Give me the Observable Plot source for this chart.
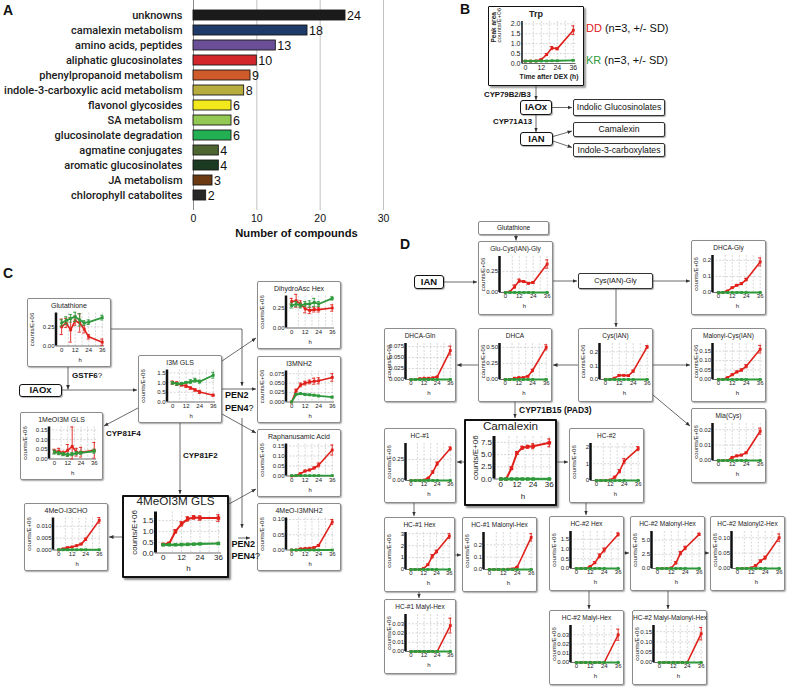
<!DOCTYPE html>
<html><head><meta charset="utf-8">
<script src="https://cdn.jsdelivr.net/npm/d3@7"></script>
<script src="https://cdn.jsdelivr.net/npm/@observablehq/plot@0.6"></script>
<style>
body{margin:0;background:#fff;}
#page{position:relative;width:787px;height:687px;overflow:hidden;background:#fff;font-family:"Liberation Sans",Arial,sans-serif;color:#111;}
.box{position:absolute;box-sizing:border-box;background:#fff;}
.mini{border:1px solid #8c8c8c;border-radius:2px;box-shadow:1px 1px 1.5px rgba(0,0,0,0.35);}
.big{border:2.5px solid #111;border-radius:1px;box-shadow:2px 2px 2px rgba(0,0,0,0.45);}
.trpbox{border:1.5px solid #111;border-radius:1px;box-shadow:2px 2px 2px rgba(0,0,0,0.4);}
.box svg{position:absolute;left:0;top:0;}
.ttl{position:absolute;left:0;right:0;text-align:center;white-space:nowrap;line-height:1;color:#222;}
.node{position:absolute;box-sizing:border-box;border:1.5px solid #111;border-radius:3px;background:#fff;font-weight:bold;text-align:center;box-shadow:1px 1px 1px rgba(0,0,0,0.3);}
.pbox{position:absolute;box-sizing:border-box;border:1px solid #333;border-radius:2px;background:#fff;text-align:center;box-shadow:1px 1px 1px rgba(0,0,0,0.35);white-space:nowrap;}
.lbl{position:absolute;white-space:nowrap;line-height:1;}
.panel{position:absolute;font-weight:bold;font-size:14px;line-height:1;}
</style>
</head><body><div id="page"></div>
<script>
// ---------------- Panel A data ----------------
const categories = ["unknowns","camalexin metabolism","amino acids, peptides","aliphatic glucosinolates","phenylpropanoid metabolism","indole-3-carboxylic acid metabolism","flavonol glycosides","SA metabolism","glucosinolate degradation","agmatine conjugates","aromatic glucosinolates","JA metabolism","chlorophyll catabolites"];
const compoundCounts = [24,18,13,10,9,8,6,6,6,4,4,3,2];
const countTicks = [0,10,20,30];

// ---------------- time courses (hours after DEX) ----------------
const hours = [0,4,8,12,16,20,24,36];
const hourTicks = [0,12,24,36];
const hourGrid = [6,12,18,24,30,36];

const trpDD = [0.12,0.12,0.13,0.2,0.45,0.78,0.75,1.68];
const trpDDsd = [0.02,0.02,0.02,0.03,0.05,0.08,0.06,0.22];
const trpKR = [0.12,0.12,0.12,0.13,0.13,0.14,0.14,0.16];
const trpKRsd = [0.01,0.01,0.01,0.01,0.01,0.01,0.01,0.02];

const glutathioneDD = [0.25,0.3,0.21,0.33,0.3,0.22,0.12,0.05];
const glutathioneDDsd = [0.1,0.06,0.16,0.06,0.12,0.05,0.03,0.04];
const glutathioneKR = [0.3,0.33,0.36,0.38,0.34,0.3,0.31,0.37];
const glutathioneKRsd = [0.04,0.05,0.05,0.06,0.08,0.03,0.03,0.03];

const i3mGlsDD = [1.0,0.95,0.88,0.82,0.72,0.62,0.52,0.35];
const i3mGlsDDsd = [0.08,0.1,0.06,0.06,0.06,0.06,0.08,0.05];
const i3mGlsKR = [0.98,0.93,0.95,1.0,1.05,1.12,1.05,1.38];
const i3mGlsKRsd = [0.06,0.06,0.06,0.05,0.1,0.1,0.08,0.15];

const dihydroAscHexDD = [0.33,0.34,0.3,0.24,0.22,0.23,0.23,0.25];
const dihydroAscHexDDsd = [0.04,0.08,0.04,0.05,0.04,0.03,0.03,0.04];
const dihydroAscHexKR = [0.28,0.3,0.28,0.3,0.3,0.32,0.3,0.37];
const dihydroAscHexKRsd = [0.03,0.03,0.03,0.03,0.04,0.05,0.03,0.02];

const i3mnh2DD = [0.0,0.03,0.045,0.05,0.053,0.055,0.056,0.065];
const i3mnh2DDsd = [0,0.004,0.005,0.005,0.005,0.008,0.008,0.01];
const i3mnh2KR = [0.0,0.02,0.022,0.02,0.019,0.018,0.016,0.013];
const i3mnh2KRsd = [0,0.002,0.002,0.002,0.002,0.002,0.002,0.002];

const raphanusamicDD = [0,0.002,0.012,0.025,0.03,0.04,0.055,0.13];
const raphanusamicDDsd = [0,0,0.003,0.004,0.004,0.005,0.01,0.025];
const raphanusamicKR = [0.002,0.002,0.002,0.002,0.002,0.002,0.002,0.002];

const meo1I3mGlsDD = [0.04,0.04,0.03,0.045,0.065,0.035,0.035,0.045];
const meo1I3mGlsDDsd = [0.01,0.015,0.01,0.03,0.1,0.02,0.025,0.04];
const meo1I3mGlsKR = [0.035,0.03,0.025,0.022,0.025,0.03,0.032,0.04];
const meo1I3mGlsKRsd = [0.01,0.008,0.008,0.008,0.008,0.008,0.008,0.01];

const meo4I3choDD = [0,0.0005,0.001,0.0013,0.0018,0.0025,0.0045,0.0125];
const meo4I3choDDsd = [0,0.0001,0.0002,0.0002,0.0003,0.0003,0.0005,0.0012];
const meo4I3choKR = [0.0001,0.0001,0.0001,0.0001,0.0001,0.0001,0.0001,0.0001];

const meo4I3mGlsDD = [0.4,0.45,1.0,1.35,1.58,1.65,1.62,1.62];
const meo4I3mGlsDDsd = [0.04,0.04,0.08,0.1,0.1,0.08,0.1,0.15];
const meo4I3mGlsKR = [0.38,0.38,0.38,0.39,0.4,0.41,0.42,0.44];
const meo4I3mGlsKRsd = [0.02,0.02,0.02,0.02,0.02,0.02,0.02,0.02];

const meo4I3mnh2DD = [0,0,0.004,0.005,0.006,0.008,0.015,0.092];
const meo4I3mnh2DDsd = [0,0,0.001,0.001,0.001,0.002,0.003,0.008];
const meo4I3mnh2KR = [0,0,0,0,0,0,0,0];

const krBaselineD = [0,0,0,0,0,0,0,0];

const gluCysIanGlyDD = [0,0.01,0.07,0.14,0.13,0.11,0.12,0.34];
const gluCysIanGlySD = [0,0,0.02,0.02,0.01,0.01,0.01,0.05];
const dhcaGlyDD = [0,0,0.01,0.03,0.045,0.055,0.08,0.19];
const dhcaGlySD = [0,0,0.002,0.004,0.005,0.006,0.008,0.025];
const dhcaGlnDD = [0,0,0.002,0.003,0.003,0.004,0.006,0.066];
const dhcaGlnSD = [0,0,0,0,0,0,0.001,0.01];
const dhcaDD = [0,0,0.02,0.03,0.03,0.05,0.14,0.5];
const dhcaSD = [0,0,0,0.005,0.005,0.01,0.02,0.04];
const cysIanDD = [0,0,0.01,0.03,0.03,0.028,0.06,0.235];
const cysIanSD = [0,0,0.002,0.005,0.004,0.004,0.008,0.01];
const malonylCysIanDD = [0,0,0.01,0.025,0.04,0.05,0.07,0.16];
const malonylCysIanSD = [0,0,0.002,0.004,0.005,0.006,0.008,0.02];
const miaCysDD = [0,0,0,0.002,0.003,0.0035,0.005,0.019];
const miaCysSD = [0,0,0,0.0003,0.0005,0.0005,0.0005,0.002];
const camalexinDD = [0,0,2.2,5.3,6.4,6.6,6.7,7.4];
const camalexinSD = [0,0,0.3,0.3,0.3,0.3,0.5,0.8];
const hc1DD = [0,0,0,0.005,0.03,0.1,0.2,0.38];
const hc1SD = [0,0,0,0,0.005,0.015,0.02,0.02];
const hc2DD = [0,0,0,0.03,0.2,0.55,1.15,1.9];
const hc2SD = [0,0,0,0.01,0.05,0.1,0.15,0.12];
const hc1HexDD = [0,0,0,0.1,0.4,1.1,1.5,2.8];
const hc1HexSD = [0,0,0,0.02,0.05,0.15,0.12,0.2];
const hc1MalonylHexDD = [0,0,0,0,0.002,0.005,0.02,0.26];
const hc1MalonylHexSD = [0,0,0,0,0,0,0.003,0.03];
const hc1MalylHexDD = [0,0,0,0,0,0,0,0.028];
const hc1MalylHexSD = [0,0,0,0,0,0,0,0.008];
const hc2HexDD = [0,0,0,0.1,0.3,0.65,0.95,1.75];
const hc2HexSD = [0,0,0,0.02,0.05,0.1,0.1,0.08];
const hc2MalonylHexDD = [0,0,0,0.1,1.0,2.7,3.6,6.0];
const hc2MalonylHexSD = [0,0,0,0.05,0.2,0.3,0.3,0.2];
const hc2Malonyl2HexDD = [0,0,0,0.002,0.01,0.024,0.035,0.1];
const hc2Malonyl2HexSD = [0,0,0,0,0.002,0.004,0.005,0.012];
const hc2MalylHexDD = [0,0,0,0,0,0,0,0.03];
const hc2MalylHexSD = [0,0,0,0,0,0,0,0.006];
const hc2MalylMalonylHexDD = [0,0,0,0,0,0,0,0.14];
const hc2MalylMalonylHexSD = [0,0,0,0,0,0,0,0.03];

// ---------------- styles ----------------
const RED = "#e0201b", GREEN = "#2f9a3c";
const barColors = ["#1b1b1b","#1d3a68","#6a4f98","#d3262a","#cf5a2a","#b6ad3e","#f2e81c","#93c853","#22b052","#4d6530","#1b3a22","#6b3a12","#262626"];
const FONT = '"Liberation Sans", Arial, sans-serif';
const INK = "#222";

const LAYOUTS = {
  c:    {cls:"mini", border:1, ml:27.5, mr:6, mt:13.5, mb:20.5, fs:6, tfs:7, titleY:6, xMin:-5, xMax:38, tpx:2, tpy:1.5, xlo:15.5, ylo:26.5, lw:1.6, glw:1.8, ew:0.9, cap:1.4, r:1.6, axisW:2.5},
  d:    {cls:"mini", border:1, ml:20, mr:3, mt:14, mb:22, fs:6, tfs:6.5, titleY:7, xMin:-5, xMax:38, tpx:1.5, tpy:1.5, xlo:15, ylo:19, lw:1.6, glw:2.2, ew:0.9, cap:1.4, r:1.6, axisW:2.5},
  big4: {cls:"big", border:2.5, ml:31, mr:5, mt:14.5, mb:22.5, fs:8, tfs:11.7, titleY:4.2, xMin:-5, xMax:38, tpx:1.5, tpy:2, xlo:18, ylo:24.5, lw:2, glw:2.2, ew:1.1, cap:1.1, r:2, axisW:3},
  cam:  {cls:"big", border:2.5, ml:27.5, mr:2.5, mt:15, mb:24.5, fs:8, tfs:11.7, titleY:5.2, xMin:-5, xMax:38, tpx:2, tpy:2, xlo:20, ylo:22, lw:2, glw:2.4, ew:1.1, cap:1.1, r:2, axisW:3},
  trp:  {cls:"trpbox", border:1.5, ml:32.5, mr:6.5, mt:14, mb:21, fs:7, tfs:9, titleY:7.5, xMin:-2.5, xMax:38, tpx:2, tpy:1.5, xlo:0, ylo:0, lw:1.6, glw:1.8, ew:0.9, cap:1.2, r:1.6, axisW:1.5, bold:true}
};

// chart configurations (values come from named arrays above)
const charts = [
  {title:"Trp", lay:"trp", box:[488,6,96,80], dd:trpDD, ddSD:trpDDsd, kr:trpKR, krSD:trpKRsd, yTicks:[0,0.5,1,1.5,2], yMax:2.12},
  {title:"Glutathione", lay:"c", box:[27,298,84,69], dd:glutathioneDD, ddSD:glutathioneDDsd, kr:glutathioneKR, krSD:glutathioneKRsd, yTicks:[0,0.25], yMax:0.43},
  {title:"I3M GLS", lay:"c", box:[138,355,84,68], dd:i3mGlsDD, ddSD:i3mGlsDDsd, kr:i3mGlsKR, krSD:i3mGlsKRsd, yTicks:[0,0.5,1,1.5], yMax:1.65},
  {title:"DihydroAsc Hex", lay:"c", box:[257,281,84,68], dd:dihydroAscHexDD, ddSD:dihydroAscHexDDsd, kr:dihydroAscHexKR, krSD:dihydroAscHexKRsd, yTicks:[0,0.25], yMax:0.4},
  {title:"I3MNH2", lay:"c", box:[257,356,84,67], dd:i3mnh2DD, ddSD:i3mnh2DDsd, kr:i3mnh2KR, krSD:i3mnh2KRsd, yTicks:[0,0.025,0.05,0.075], yMax:0.082},
  {title:"Raphanusamic Acid", lay:"c", box:[257,429,84,68], dd:raphanusamicDD, ddSD:raphanusamicDDsd, kr:raphanusamicKR, yTicks:[0,0.05,0.1,0.15], yMax:0.16},
  {title:"1MeOI3M GLS", lay:"c", box:[20,412,83,68], dd:meo1I3mGlsDD, ddSD:meo1I3mGlsDDsd, kr:meo1I3mGlsKR, krSD:meo1I3mGlsKRsd, yTicks:[0,0.05,0.1,0.15], yMax:0.165},
  {title:"4MeO-I3CHO", lay:"c", box:[24,503,84,68], dd:meo4I3choDD, ddSD:meo4I3choDDsd, kr:meo4I3choKR, yTicks:[0,0.005,0.01], yMax:0.0135},
  {title:"4MeOI3M GLS", lay:"big4", box:[122,495,107,83], dd:meo4I3mGlsDD, ddSD:meo4I3mGlsDDsd, kr:meo4I3mGlsKR, krSD:meo4I3mGlsKRsd, yTicks:[0,0.5,1,1.5], yMax:1.9},
  {title:"4MeO-I3MNH2", lay:"c", box:[257,503,84,68], dd:meo4I3mnh2DD, ddSD:meo4I3mnh2DDsd, kr:meo4I3mnh2KR, yTicks:[0,0.05,0.1], yMax:0.105},
  {title:"Glu-Cys(IAN)-Gly", lay:"d", box:[478,241,75,74], dd:gluCysIanGlyDD, ddSD:gluCysIanGlySD, kr:krBaselineD, yTicks:[0,0.25], yMax:0.43},
  {title:"DHCA-Gly", lay:"d", box:[691,240,75,75], dd:dhcaGlyDD, ddSD:dhcaGlySD, kr:krBaselineD, yTicks:[0,0.1,0.2], yMax:0.23},
  {title:"DHCA-Gln", lay:"d", box:[384,328,72,74], dd:dhcaGlnDD, ddSD:dhcaGlnSD, kr:krBaselineD, yTicks:[0,0.025,0.05,0.075], yMax:0.082},
  {title:"DHCA", lay:"d", box:[478,328,74,74], dd:dhcaDD, ddSD:dhcaSD, kr:krBaselineD, yTicks:[0,0.25,0.5], yMax:0.56},
  {title:"Cys(IAN)", lay:"d", box:[578,328,75,74], dd:cysIanDD, ddSD:cysIanSD, kr:krBaselineD, yTicks:[0,0.1,0.2], yMax:0.26},
  {title:"Malonyl-Cys(IAN)", lay:"d", box:[691,328,75,74], dd:malonylCysIanDD, ddSD:malonylCysIanSD, kr:krBaselineD, yTicks:[0,0.05,0.1,0.15], yMax:0.19},
  {title:"Mia(Cys)", lay:"d", box:[691,408,75,75], dd:miaCysDD, ddSD:miaCysSD, kr:krBaselineD, yTicks:[0,0.01,0.02], yMax:0.024},
  {title:"Camalexin", lay:"cam", box:[464,419,93,87], dd:camalexinDD, ddSD:camalexinSD, kr:krBaselineD, yTicks:[0,2.5,5,7.5], yMax:8.7},
  {title:"HC-#1", lay:"d", box:[384,428,72,75], dd:hc1DD, ddSD:hc1SD, kr:krBaselineD, yTicks:[0,0.25], yMax:0.44},
  {title:"HC-#2", lay:"d", box:[569,428,75,75], dd:hc2DD, ddSD:hc2SD, kr:krBaselineD, yTicks:[0,1,2], yMax:2.2},
  {title:"HC-#1 Hex", lay:"d", box:[384,517,71,75], dd:hc1HexDD, ddSD:hc1HexSD, kr:krBaselineD, yTicks:[0,1,2,3], yMax:3.1},
  {title:"HC-#1 Malonyl-Hex", lay:"d", box:[462,517,75,75], dd:hc1MalonylHexDD, ddSD:hc1MalonylHexSD, kr:krBaselineD, yTicks:[0,0.1,0.2], yMax:0.3},
  {title:"HC-#1 Malyl-Hex", lay:"d", box:[384,599,72,75], dd:hc1MalylHexDD, ddSD:hc1MalylHexSD, kr:krBaselineD, yTicks:[0,0.01,0.02,0.03], yMax:0.04},
  {title:"HC-#2 Hex", lay:"d", box:[549,516,75,75], dd:hc2HexDD, ddSD:hc2HexSD, kr:krBaselineD, yTicks:[0,0.5,1,1.5], yMax:1.9},
  {title:"HC-#2 Malonyl-Hex", lay:"d", box:[630,516,75,75], dd:hc2MalonylHexDD, ddSD:hc2MalonylHexSD, kr:krBaselineD, yTicks:[0,2.5,5], yMax:6.5},
  {title:"HC-#2 Malonyl2-Hex", lay:"d", box:[710,516,75,75], dd:hc2Malonyl2HexDD, ddSD:hc2Malonyl2HexSD, kr:krBaselineD, yTicks:[0,0.05,0.1], yMax:0.12},
  {title:"HC-#2 Malyl-Hex", lay:"d", box:[549,610,75,75], dd:hc2MalylHexDD, ddSD:hc2MalylHexSD, kr:krBaselineD, yTicks:[0,0.01,0.02,0.03], yMax:0.04},
  {title:"HC-#2 Malyl-Malonyl-Hex", lay:"d", box:[632,610,75,75], dd:hc2MalylMalonylHexDD, ddSD:hc2MalylMalonylHexSD, kr:krBaselineD, yTicks:[0,0.05,0.1,0.15], yMax:0.18}
];

const page = document.getElementById("page");
function el(tag, cls, css, html) {
  const e = document.createElement(tag);
  if (cls) e.className = cls;
  Object.assign(e.style, css || {});
  if (html != null) e.innerHTML = html;
  page.appendChild(e);
  return e;
}

// ---------------- Panel A ----------------
const barRows = categories.map((c, i) => ({category: c, count: compoundCounts[i], color: barColors[i]}));
const barChart = Plot.plot({
  width: 392, height: 246, marginLeft: 193, marginRight: 9, marginTop: 0, marginBottom: 36,
  style: {fontFamily: FONT, fontSize: "10.5px", color: "#111", background: "transparent", overflow: "visible"},
  x: {domain: [0, 30]},
  y: {domain: categories, padding: 0.35},
  color: {type: "identity"},
  marks: [
    Plot.gridX({ticks: [10, 20, 30], stroke: "#c2c2c2", strokeOpacity: 1, strokeWidth: 1}),
    Plot.ruleX([0], {stroke: "#8a8a8a", strokeWidth: 1}),
    Plot.axisX({ticks: countTicks, tickSize: 0, tickPadding: 4, fontSize: 10.5, color: "#111", label: null}),
    Plot.axisY({tickSize: 0, tickPadding: 11, fontSize: 11, fontFamily: "Roboto, sans-serif", fontWeight: 500, color: "#1a1a1a", label: null}),
    Plot.barX(barRows, {x: "count", y: "category", fill: "color", stroke: "#1a1a1a", strokeWidth: 0.9}),
    Plot.text(barRows, {x: "count", y: "category", text: d => String(d.count), textAnchor: "start", dx: 1.5, fontSize: 12.5, fill: "#111"}),
    Plot.text(["Number of compounds"], {text: d => d, frameAnchor: "bottom", dx: 8, dy: 26, fontWeight: "bold", fontSize: 11.2, fill: "#111"})
  ]
});
const aWrap = el("div", null, {position: "absolute", left: "0px", top: "0px"});
aWrap.appendChild(barChart);

// ---------------- time-course builder ----------------
function seriesRows(vals, sds) {
  return hours.map((t, i) => {
    const s = sds ? sds[i] : 0;
    return {t, v: vals[i], lo: Math.max(0, vals[i] - s), hi: vals[i] + s};
  });
}
function timeCourse(c, L, w, h) {
  const red = seriesRows(c.dd, c.ddSD), green = seriesRows(c.kr, c.krSD);
  const dec = Math.max(...c.yTicks.map(t => (String(t).split(".")[1] || "").length));
  const series = (rows, col, lw) => [
    Plot.ruleX(rows.filter(d => d.hi > d.lo), {x: "t", y1: "lo", y2: "hi", stroke: col, strokeWidth: L.ew}),
    Plot.ruleY(rows.filter(d => d.hi > d.v), {y: "hi", x1: d => d.t - L.cap, x2: d => d.t + L.cap, stroke: col, strokeWidth: L.ew}),
    Plot.ruleY(rows.filter(d => d.lo < d.v), {y: "lo", x1: d => d.t - L.cap, x2: d => d.t + L.cap, stroke: col, strokeWidth: L.ew}),
    Plot.line(rows, {x: "t", y: "v", stroke: col, strokeWidth: lw}),
    Plot.dot(rows, {x: "t", y: "v", symbol: "square", r: L.r, fill: col})
  ];
  const marks = [
    Plot.gridX({ticks: hourGrid, stroke: "#bdbdbd", strokeOpacity: 1, strokeDasharray: "2,1.5", strokeWidth: 0.6}),
    Plot.gridY({ticks: c.yTicks.filter(t => t > 0), stroke: "#bdbdbd", strokeOpacity: 1, strokeDasharray: "2,1.5", strokeWidth: 0.6}),
    Plot.axisX({ticks: hourTicks, tickSize: 0, tickPadding: L.tpx, fontSize: L.fs, color: INK,
      label: L.bold ? null : "h", labelAnchor: "center", labelOffset: L.xlo, labelArrow: "none"}),
    Plot.axisY({ticks: c.yTicks, tickFormat: d3.format(`.${dec}f`), tickSize: 0, tickPadding: L.tpy, fontSize: L.fs, color: INK,
      label: L.bold ? null : "counts/E+06", labelAnchor: "center", labelOffset: L.ylo, labelArrow: "none"}),
    Plot.ruleY([0], {stroke: "#444", strokeWidth: 0.8}),
    ...series(red, RED, L.lw),
    ...series(green, GREEN, L.glw),
    Plot.ruleX([L.xMin], {stroke: "#111", strokeWidth: L.axisW})
  ];
  if (L.bold) {
    marks.push(
      Plot.text(["Time after DEX (h)"], {text: d => d, frameAnchor: "bottom", dy: 15.5, fontWeight: "bold", fontSize: 6.8, fill: INK}),
      Plot.text(["Peak area"], {text: d => d, frameAnchor: "left", rotate: -90, dx: -28.5, fontWeight: "bold", fontSize: 6.5, fill: INK}),
      Plot.text(["counts/E+06"], {text: d => d, frameAnchor: "left", rotate: -90, dx: -22.5, fontSize: 6.2, fill: INK})
    );
  }
  return Plot.plot({
    width: w, height: h, marginLeft: L.ml, marginRight: L.mr, marginTop: L.mt, marginBottom: L.mb,
    x: {domain: [L.xMin, L.xMax]}, y: {domain: [0, c.yMax]},
    style: {fontFamily: FONT, fontSize: L.fs + "px", color: INK, background: "transparent", overflow: "visible"},
    marks
  });
}

for (const c of charts) {
  const L = LAYOUTS[c.lay];
  const [x, y, w, h] = c.box;
  const b = el("div", "box " + L.cls, {left: x + "px", top: y + "px", width: w + "px", height: h + "px"});
  const iw = w - 2 * L.border, ih = h - 2 * L.border;
  b.appendChild(timeCourse(c, L, iw, ih));
  const t = document.createElement("div");
  t.className = "ttl";
  t.textContent = c.title;
  Object.assign(t.style, {top: (L.titleY - L.tfs / 2) + "px", fontSize: L.tfs + "px", fontWeight: L.bold ? "bold" : "normal"});
  b.appendChild(t);
}

// ---------------- diagram nodes and labels ----------------
function node(txt, x, y, w, h, fs) {
  el("div", "node", {left: x + "px", top: y + "px", width: w + "px", height: h + "px", fontSize: fs + "px", lineHeight: (h - 3) + "px"}, txt);
}
function pbox(txt, x, y, w, h, fs, extra) {
  el("div", "pbox", Object.assign({left: x + "px", top: y + "px", width: w + "px", height: h + "px", fontSize: fs + "px", lineHeight: (h - 2) + "px"}, extra || {}), txt);
}
function label(html, x, y, fs, bold, extra) {
  el("div", "lbl", Object.assign({left: x + "px", top: (y - fs / 2) + "px", fontSize: fs + "px", fontWeight: bold ? "bold" : "normal"}, extra || {}), html);
}

el("div", "panel", {left: "3px", top: "3px"}, "A");
el("div", "panel", {left: "460px", top: "2px"}, "B");
el("div", "panel", {left: "3px", top: "266px"}, "C");
el("div", "panel", {left: "400px", top: "237px"}, "D");

// B
node("IAOx", 520, 100, 32, 15, 9.5);
node("IAN", 520, 132, 33, 14, 9.5);
pbox("Indolic Glucosinolates", 573, 99, 92, 17, 8.7);
pbox("Camalexin", 573, 122, 92, 15, 8.7);
pbox("Indole-3-carboxylates", 573, 143, 92, 14, 8.7);
label("CYP79B2/B3", 484, 95, 7.8, true);
label("CYP71A13", 493, 121.5, 7.8, true);
label('<span style="color:#e0201b">DD</span> (n=3, +/- SD)', 586, 28.5, 11, false);
label('<span style="color:#2f9a3c">KR</span> (n=3, +/- SD)', 586, 60.5, 11, false);

// C
node("IAOx", 19, 384, 43, 12.5, 9.5);
label('GSTF6<span style="font-weight:normal">?</span>', 72, 375.5, 8, true);
label('PEN2', 225, 395.5, 9, true);
label('PEN4<span style="font-weight:normal">?</span>', 225, 408, 9, true);
label('CYP81F4', 106, 434, 8, true);
label('CYP81F2', 183, 456, 8, true);
label('PEN2', 231.5, 544, 9, true);
label('PEN4<span style="font-weight:normal">?</span>', 231.5, 556.5, 9, true);

// D
node("IAN", 414, 275, 30, 14, 9.5);
pbox("Glutathione", 478, 221, 71, 13.5, 6.5, {border: "1px solid #8c8c8c"});
pbox("Cys(IAN)-Gly", 578, 273, 75, 16, 7.2);
label("CYP71B15 (PAD3)", 519, 410.5, 8.5, true);

// ---------------- connectors ----------------
const connectors = [
  // B
  [[536,86],[536,100]], [[552,107.5],[572,107.5]], [[536,115],[536,132]],
  [[553,136.5],[572,131]], [[553,141],[572,147.5]],
  // C
  [[68,367],[68,389.5]], [[62,390],[137,390]], [[111,329],[242,329],[242,386]],
  [[222,389],[256,389]], [[222,361],[256,338]], [[222,414],[256,433]],
  [[138,408],[104,426]], [[180,423],[180,494]], [[242,418],[242,528]],
  [[238,538],[250,538]], [[229,504],[256,489]], [[122,537],[109,537]],
  // D
  [[516,234.5],[516,240.5]], [[444,282],[477,282]], [[553,281],[577,281]],
  [[653,281],[690,281]], [[616,289],[616,327]], [[578,365],[553,365]],
  [[478,365],[457,365]], [[653,365],[690,365]], [[653,395],[690,426]],
  [[515,402],[515,418]], [[464,462],[457,462]], [[557,462],[568,462]],
  [[414,503],[414,516]], [[455,555],[461,555]], [[419,592],[419,598]],
  [[586,503],[586,515]], [[624,553],[629,553]], [[705,553],[709,553]],
  [[589,591],[589,609]], [[668,591],[668,609]]
];
const ov = d3.select(page).append("svg")
  .attr("width", 787).attr("height", 687)
  .style("position", "absolute").style("left", "0px").style("top", "0px").style("pointer-events", "none");
ov.append("defs").append("marker")
  .attr("id", "ah").attr("viewBox", "0 0 10 10").attr("refX", 10).attr("refY", 5)
  .attr("markerWidth", 4.5).attr("markerHeight", 4.5).attr("markerUnits", "userSpaceOnUse").attr("orient", "auto")
  .append("path").attr("d", "M0,0.8L10,5L0,9.2Z").attr("fill", "#333");
ov.selectAll("polyline").data(connectors).join("polyline")
  .attr("points", d => d.map(p => p.join(",")).join(" "))
  .attr("fill", "none").attr("stroke", "#444").attr("stroke-width", 0.8)
  .attr("marker-end", "url(#ah)");
</script>
</body></html>
